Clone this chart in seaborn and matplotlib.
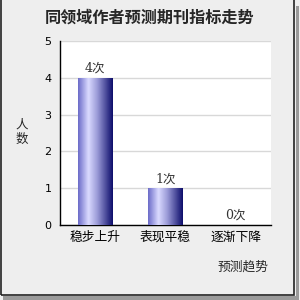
import numpy as np
import matplotlib
matplotlib.use("Agg")
import matplotlib.pyplot as plt
from matplotlib.colors import LinearSegmentedColormap
from matplotlib.patches import Rectangle
import seaborn as sns
import pandas as pd

categories = ["稳步上升", "表现平稳", "逐渐下降"]
values = [4, 1, 0]
value_labels = ["4次", "1次", "0次"]
y_ticks = [0, 1, 2, 3, 4, 5]
title = "同领域作者预测期刊指标走势"
ylabel = "人数"
xlabel = "预测趋势"

sns.set_theme(style="white")
plt.rcParams["font.family"] = ["Noto Sans CJK SC", "DejaVu Sans"]

fig = plt.figure(figsize=(3, 3), dpi=100, facecolor="#eeeeee")
ax = fig.add_axes([60/300, 1-225/300, 211/300, 184/300])
ax.set_facecolor("white")

df = pd.DataFrame({"cat": categories, "val": values})
sns.barplot(data=df, x="cat", y="val", ax=ax, width=0.49, color="#8080d0",
            edgecolor="none", linewidth=0, zorder=3)

ax.set_xlim(-0.5, 2.5)
ax.set_ylim(0, 5)

cmap = LinearSegmentedColormap.from_list(
    "g", [(0, "#6a6ac8"), (0.3, "#dadaff"), (0.55, "#9c9cd8"), (1.0, "#0c0c6a")])
grad = np.linspace(0, 1, 256).reshape(1, -1)
for p in ax.patches:
    x0, y0 = p.get_x(), p.get_y()
    w, h = p.get_width(), p.get_height()
    if h <= 0:
        continue
    im = ax.imshow(grad, cmap=cmap, extent=(x0, x0 + w, y0, y0 + h),
                   aspect="auto", zorder=4, interpolation="bilinear")
    im.set_clip_path(p)
ax.set_xlim(-0.5, 2.5)
ax.set_ylim(0, 5)

for i, (v, lab) in enumerate(zip(values, value_labels)):
    ax.text(i, v + 0.08, lab, ha="center", va="bottom", fontsize=9,
            color="#333333", family=["DejaVu Serif", "Noto Sans CJK SC"], zorder=5,
            bbox=dict(facecolor="white", edgecolor="none", pad=0.5))

ax.set_yticks(y_ticks)
ax.yaxis.grid(True, color="#d8d8d8", linewidth=1, zorder=0)
ax.set_axisbelow(True)
ax.set_xticks([0, 1, 2])
ax.set_xticklabels(categories, fontsize=9.2)
ax.set_xticks([0.5, 1.5, 2.5], minor=True)
ax.tick_params(axis="x", which="major", length=0, pad=4, colors="black")
ax.tick_params(axis="x", which="minor", direction="in", length=4, width=1, color="black")
ax.tick_params(axis="y", direction="in", length=4, width=1, pad=6, labelsize=8,
               color="black", labelcolor="black")
for lab in ax.get_yticklabels():
    lab.set_family("DejaVu Sans")

for s in ["top", "right"]:
    ax.spines[s].set_visible(False)
for s in ["left", "bottom"]:
    ax.spines[s].set_color("black")
    ax.spines[s].set_linewidth(1)

ax.set_xlabel("")
ax.set_ylabel("")
fig.text(150/300, 1-18/300, title, ha="center", va="center", fontsize=11.6,
         fontweight="bold")
fig.text(22/300, 1-132/300, "人\n数", ha="center", va="center", fontsize=9,
         linespacing=1.1)
fig.text(269/300, 1-267/300, xlabel, ha="right", va="center", fontsize=9.2)

# frame with shadow
fig.patches.append(Rectangle((296/300, 0), 3/300, 294/300, transform=fig.transFigure,
                             facecolor="#9a9a9a", edgecolor="none", zorder=0))
fig.patches.append(Rectangle((3/300, 0), 296/300, 4/300, transform=fig.transFigure,
                             facecolor="#9a9a9a", edgecolor="none", zorder=0))
fig.patches.append(Rectangle((0.5/300, 5/300), 293.5/300, 297/300, transform=fig.transFigure,
                             facecolor="none", edgecolor="#222222", linewidth=1.2, zorder=1))

fig.savefig("out.png", dpi=100, facecolor=fig.get_facecolor())
